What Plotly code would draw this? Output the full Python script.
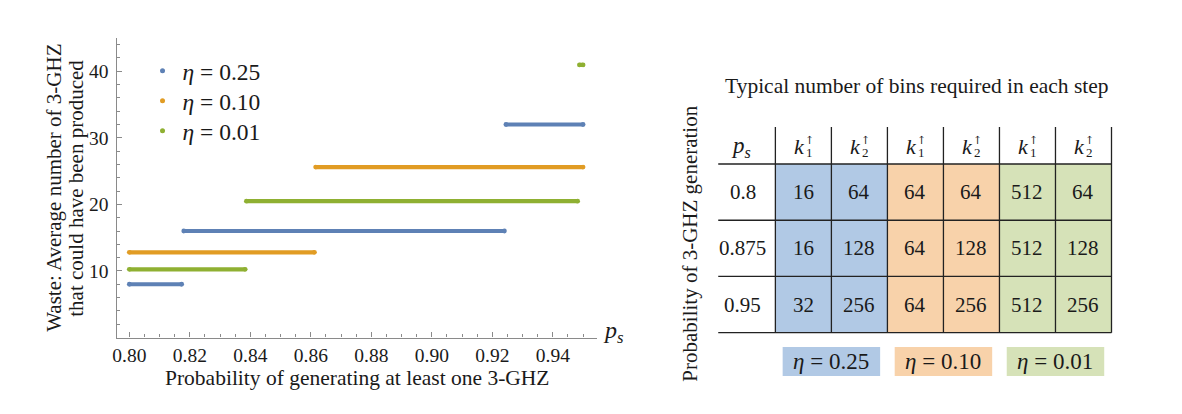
import plotly.graph_objects as go

W, H = 1182, 414
FONT = "Liberation Serif"

# ---------------- left chart data (step segments) ----------------
series_names = ["<i>η</i> = 0.25", "<i>η</i> = 0.10", "<i>η</i> = 0.01"]
series_colors = ["#5e81b5", "#e19c24", "#8fb032"]

eta025_start = [0.800, 0.8180, 0.9245]
eta025_end = [0.8173, 0.9240, 0.9500]
eta025_val = [8.0, 16.0, 32.0]

eta010_start = [0.800, 0.8616]
eta010_end = [0.8612, 0.9500]
eta010_val = [12.8, 25.6]

eta001_start = [0.800, 0.8387, 0.9488]
eta001_end = [0.8383, 0.9482, 0.9500]
eta001_val = [10.24, 20.48, 40.96]

x_ticks = [0.80, 0.82, 0.84, 0.86, 0.88, 0.90, 0.92, 0.94]
y_ticks = [10, 20, 30, 40]

# ---------------- right table data ----------------
table_title = "Typical number of bins required in each step"
ps_rows = ["0.8", "0.875", "0.95"]
group_labels = ["<i>η</i> = 0.25", "<i>η</i> = 0.10", "<i>η</i> = 0.01"]
group_fill = ["#b1c9e5", "#f8d2aa", "#d6e2b8"]
k_index = ["1", "2", "1", "2", "1", "2"]
col_group = [0, 0, 1, 1, 2, 2]
# columns: (eta=0.25 k1, k2), (eta=0.10 k1, k2), (eta=0.01 k1, k2)
bins_col0 = [16, 16, 32]
bins_col1 = [64, 128, 256]
bins_col2 = [64, 64, 64]
bins_col3 = [64, 128, 256]
bins_col4 = [512, 512, 512]
bins_col5 = [64, 128, 256]
bins_cols = [bins_col0, bins_col1, bins_col2, bins_col3, bins_col4, bins_col5]


def seg_xy(starts, ends, vals):
    xs, ys = [], []
    for s, e, v in zip(starts, ends, vals):
        xs += [s, e, None]
        ys += [v, v, None]
    return xs, ys


def px_x(p):
    return p / W


def px_y(p):
    return 1 - p / H


fig = go.Figure()

legend_ids = ["legend", "legend2", "legend3"]
legend_rows_px = [71, 101, 131]

for (st, en, va), name, col, lid in zip(
    [(eta025_start, eta025_end, eta025_val),
     (eta010_start, eta010_end, eta010_val),
     (eta001_start, eta001_end, eta001_val)],
    series_names, series_colors, legend_ids):
    xs, ys = seg_xy(st, en, va)
    fig.add_trace(go.Scatter(x=xs, y=ys, mode="lines+markers",
                             line=dict(color=col, width=4.2),
                             marker=dict(color=col, size=4.8),
                             showlegend=False, hoverinfo="skip",
                             xaxis="x", yaxis="y"))
    # legend entry
    fig.add_trace(go.Scatter(x=[None], y=[None], mode="markers", name=name,
                             marker=dict(color=col, size=5),
                             legend=lid, showlegend=True,
                             xaxis="x", yaxis="y"))

# invisible trace to anchor the table axes
fig.add_trace(go.Scatter(x=[None], y=[None], xaxis="x2", yaxis="y2",
                         showlegend=False, hoverinfo="skip"))

ax_color = "#8a8a8a"
TXT = "#1a1a1a"

legend_common = dict(xanchor="left", yanchor="middle",
                     font=dict(family=FONT, size=23.5, color=TXT),
                     bgcolor="rgba(0,0,0,0)", itemwidth=30)
fig.update_layout(
    width=W, height=H,
    margin=dict(l=0, r=0, t=0, b=0),
    paper_bgcolor="white", plot_bgcolor="white",
    font=dict(family=FONT, size=18, color=TXT),
    showlegend=True,
    legend=dict(x=px_x(139), y=px_y(legend_rows_px[0]), **legend_common),
    legend2=dict(x=px_x(139), y=px_y(legend_rows_px[1]), **legend_common),
    legend3=dict(x=px_x(139), y=px_y(legend_rows_px[2]), **legend_common),
    xaxis=dict(domain=[px_x(113), px_x(595)], range=[0.7958, 0.9546],
               showline=True, linecolor=ax_color, linewidth=1.3,
               showgrid=False, zeroline=False,
               tickvals=x_ticks, tickformat=".2f",
               ticks="inside", ticklen=5, tickcolor=ax_color, tickwidth=1,
               minor=dict(dtick=0.005, tick0=0.8, ticks="inside", ticklen=3,
                          tickcolor=ax_color, tickwidth=1, showgrid=False),
               tickfont=dict(family=FONT, size=19.5, color=TXT),
               ticklabelstandoff=0,
               anchor="y"),
    yaxis=dict(domain=[px_y(337.5), px_y(38)], range=[0, 45],
               showline=True, linecolor=ax_color, linewidth=1.3,
               showgrid=False, zeroline=False,
               tickvals=y_ticks,
               ticks="inside", ticklen=5, tickcolor=ax_color, tickwidth=1,
               minor=dict(dtick=2, tick0=0, ticks="inside", ticklen=3,
                          tickcolor=ax_color, tickwidth=1, showgrid=False),
               tickfont=dict(family=FONT, size=19.5, color=TXT),
               ticklabelstandoff=3,
               anchor="x"),
)

# table axes: 1 unit = one column / one row
unit_x = 56.21
unit_y = 56.23
x0_px = 774.0  # x2 = 0
y0_px = 164.0  # y2 = 0
x2_range = [-1.06, 6.06]
y2_range = [3.85, -0.66]
fig.update_layout(
    xaxis2=dict(domain=[px_x(x0_px + x2_range[0] * unit_x), px_x(x0_px + x2_range[1] * unit_x)],
                range=x2_range, visible=False, anchor="y2", fixedrange=True),
    yaxis2=dict(domain=[px_y(y0_px + y2_range[0] * unit_y), px_y(y0_px + y2_range[1] * unit_y)],
                range=y2_range, visible=False, anchor="x2", fixedrange=True),
)

shapes = []
annotations = []
n_rows = len(ps_rows)
n_cols = len(bins_cols)

# cell fills
for c in range(n_cols):
    shapes.append(dict(type="rect", xref="x2", yref="y2", x0=c, x1=c + 1, y0=0, y1=n_rows,
                       fillcolor=group_fill[col_group[c]], line=dict(width=0), layer="below"))

line_col = "#222222"
# horizontal lines
for r in range(n_rows + 1):
    shapes.append(dict(type="line", xref="x2", yref="y2", x0=-1.02, x1=n_cols, y0=r, y1=r,
                       line=dict(color=line_col, width=1.3)))
# vertical lines
for c in range(n_cols + 1):
    shapes.append(dict(type="line", xref="x2", yref="y2", x0=c, x1=c, y0=-0.66, y1=n_rows,
                       line=dict(color=line_col, width=1.3)))

# legend boxes for groups
for g, (lab, fill) in enumerate(zip(group_labels, group_fill)):
    cx = 2 * g + 1
    shapes.append(dict(type="rect", xref="x2", yref="y2", x0=cx - 0.87, x1=cx + 0.87,
                       y0=3.255, y1=3.77, fillcolor=fill, line=dict(width=0), layer="below"))
    annotations.append(dict(xref="x2", yref="y2", x=cx, y=3.51, text=lab, showarrow=False,
                            font=dict(family=FONT, size=23, color=TXT),
                            xanchor="center", yanchor="middle"))

# header
annotations.append(dict(xref="x2", yref="y2", x=-0.62, y=-0.31, text="<i>p<sub>s</sub></i>",
                        showarrow=False, font=dict(family=FONT, size=23, color=TXT),
                        xanchor="center", yanchor="middle"))
for c in range(n_cols):
    annotations.append(dict(xref="x2", yref="y2", x=c + 0.5, y=-0.31, text="<i>k</i>",
                            showarrow=False, xshift=-4,
                            font=dict(family=FONT, size=22, color=TXT),
                            xanchor="center", yanchor="middle"))
    annotations.append(dict(xref="x2", yref="y2", x=c + 0.5, y=-0.31, text="↑",
                            showarrow=False, xshift=6, yshift=6,
                            font=dict(family="DejaVu Serif", size=11, color=TXT),
                            xanchor="center", yanchor="middle"))
    annotations.append(dict(xref="x2", yref="y2", x=c + 0.5, y=-0.31, text=k_index[c],
                            showarrow=False, xshift=6, yshift=-6,
                            font=dict(family=FONT, size=13, color=TXT),
                            xanchor="center", yanchor="middle"))

# row labels and values
for r, lab in enumerate(ps_rows):
    annotations.append(dict(xref="x2", yref="y2", x=-0.58, y=r + 0.5, text=lab, showarrow=False,
                            font=dict(family=FONT, size=21, color=TXT),
                            xanchor="center", yanchor="middle"))
    for c in range(n_cols):
        annotations.append(dict(xref="x2", yref="y2", x=c + 0.5, y=r + 0.5,
                                text=str(bins_cols[c][r]), showarrow=False,
                                font=dict(family=FONT, size=21, color=TXT),
                                xanchor="center", yanchor="middle"))

# table title
annotations.append(dict(xref="paper", yref="paper", x=px_x(916), y=px_y(86), text=table_title,
                        showarrow=False, font=dict(family=FONT, size=21.5, color=TXT),
                        xanchor="center", yanchor="middle"))
# table y title
annotations.append(dict(xref="paper", yref="paper", x=px_x(688), y=px_y(244),
                        text="Probability of 3-GHZ generation", textangle=-90,
                        showarrow=False, font=dict(family=FONT, size=21, color=TXT),
                        xanchor="center", yanchor="middle"))
# left chart axis titles (two lines placed separately for tight line spacing)
annotations.append(dict(xref="paper", yref="paper", x=px_x(50), y=px_y(188),
                        text="Waste: Average number of 3-GHZ",
                        textangle=-90, showarrow=False,
                        font=dict(family=FONT, size=21, color=TXT),
                        xanchor="center", yanchor="middle"))
annotations.append(dict(xref="paper", yref="paper", x=px_x(72), y=px_y(188),
                        text="that could have been produced",
                        textangle=-90, showarrow=False,
                        font=dict(family=FONT, size=21, color=TXT),
                        xanchor="center", yanchor="middle"))
annotations.append(dict(xref="paper", yref="paper", x=px_x(355), y=px_y(378),
                        text="Probability of generating at least one 3-GHZ",
                        showarrow=False, font=dict(family=FONT, size=21.5, color=TXT),
                        xanchor="center", yanchor="middle"))
annotations.append(dict(xref="paper", yref="paper", x=px_x(612), y=px_y(332),
                        text="<i>p<sub>s</sub></i>", showarrow=False,
                        font=dict(family=FONT, size=24, color=TXT),
                        xanchor="center", yanchor="middle"))

fig.update_layout(shapes=shapes, annotations=annotations)

fig.write_html("out.html")
